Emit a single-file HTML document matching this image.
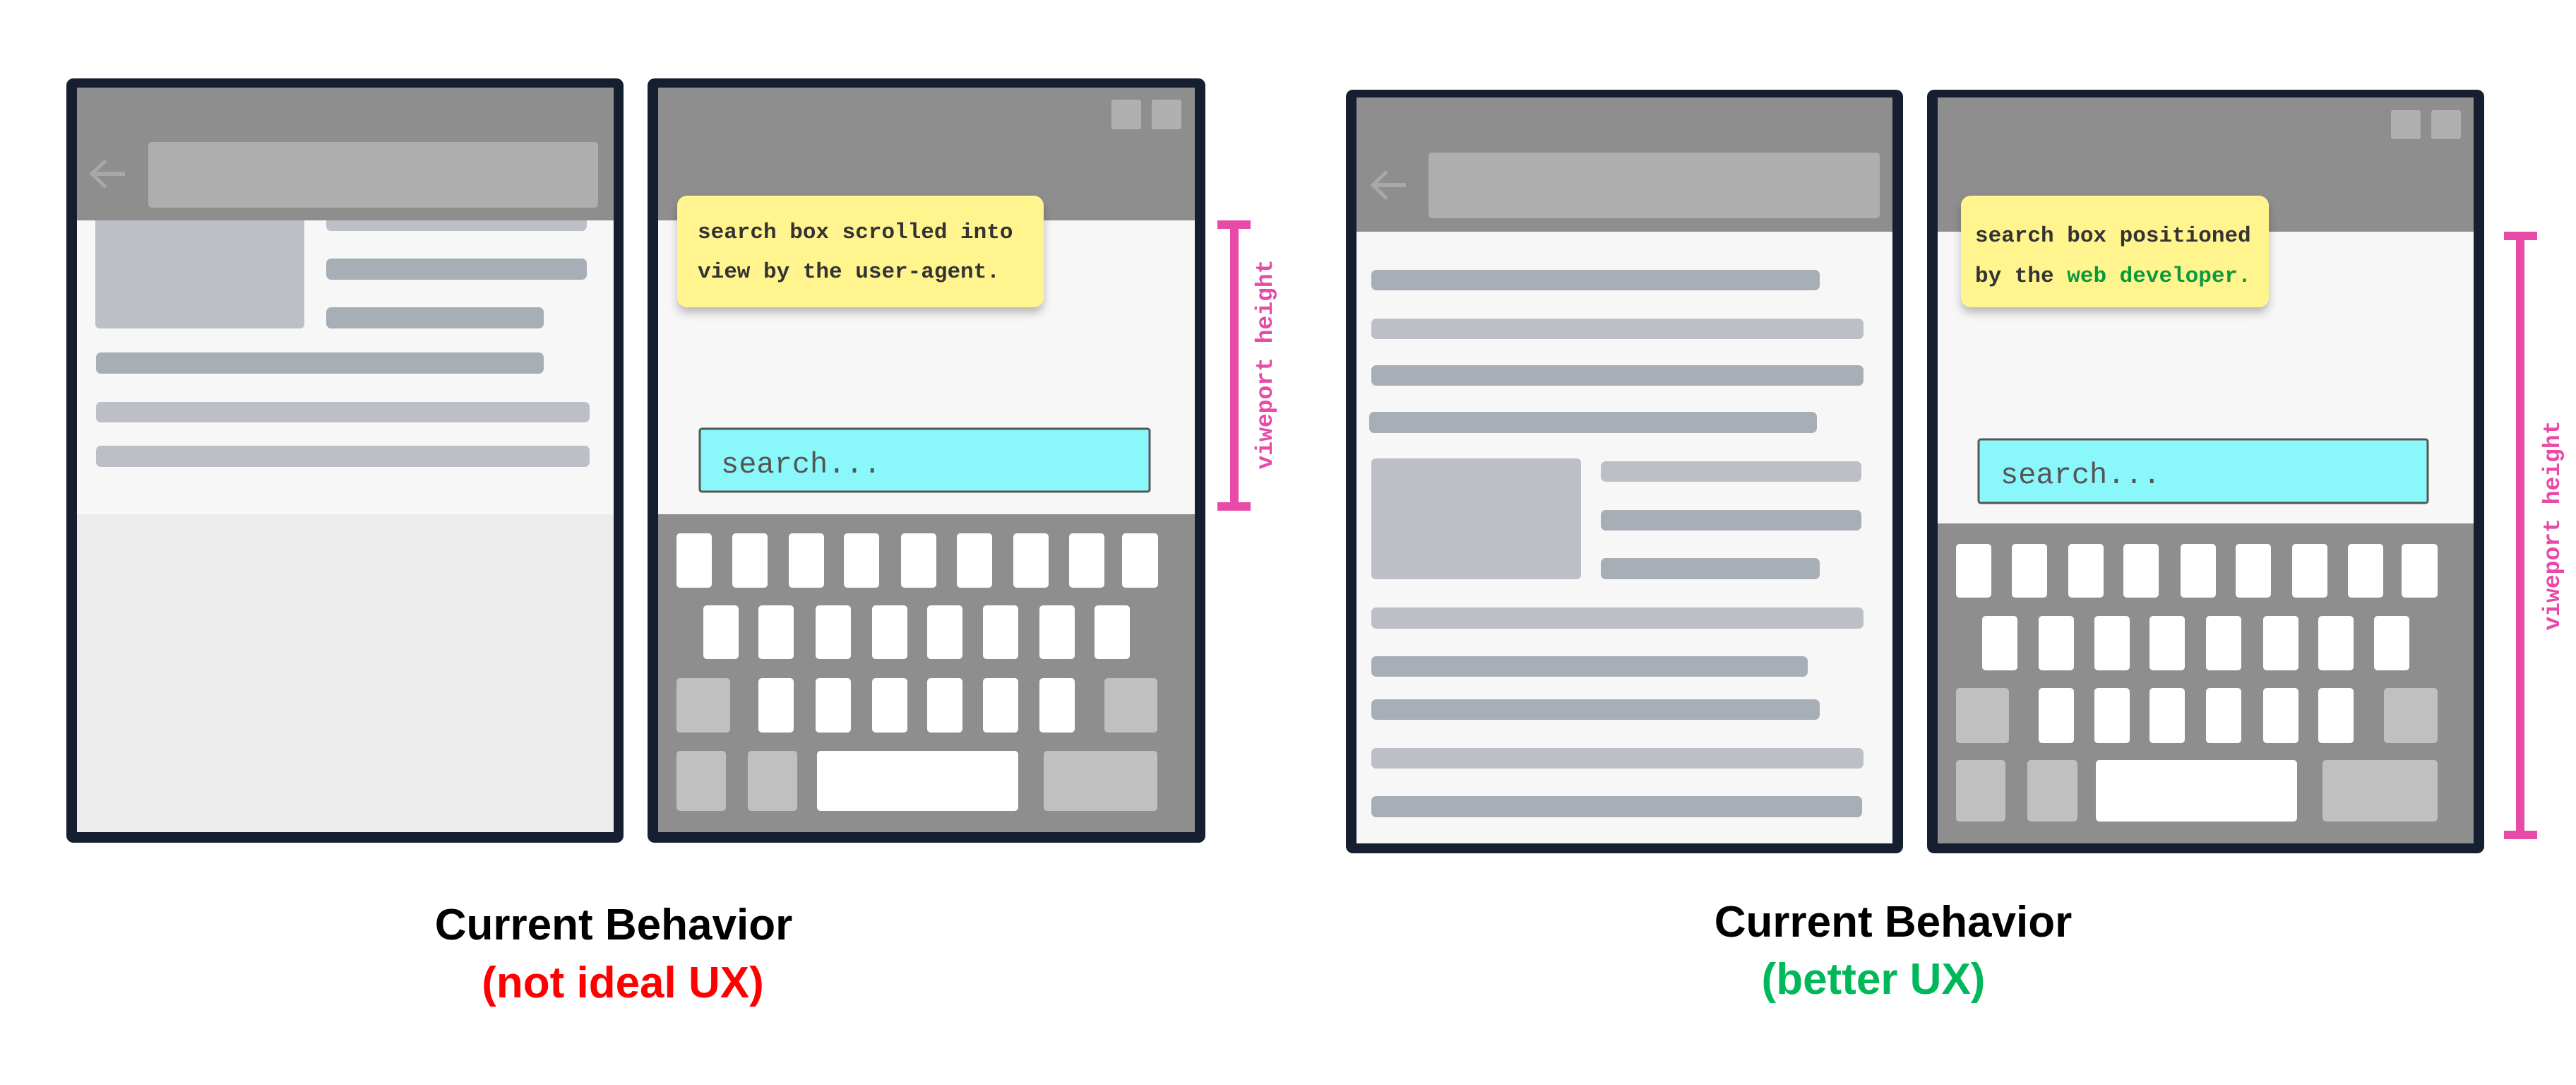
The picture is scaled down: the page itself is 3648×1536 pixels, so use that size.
<!DOCTYPE html>
<html><head><meta charset="utf-8"><style>html,body{margin:0;padding:0;background:#fff}svg{display:block}</style></head><body>
<svg width="3648" height="1536" viewBox="0 0 3648 1536" xmlns="http://www.w3.org/2000/svg">
<defs>
<filter id="sh" x="-10%" y="-10%" width="130%" height="140%"><feDropShadow dx="0" dy="8" stdDeviation="6" flood-color="#000" flood-opacity="0.25"/></filter>
</defs>
<rect width="3648" height="1536" fill="#fff"/>

<!-- LEFT DEVICE 1 -->
<rect x="94" y="111" width="789" height="1082" rx="10" fill="#151f2f"/>
<rect x="109" y="124" width="760" height="1054" fill="#ececec"/>
<rect x="109" y="312" width="760" height="416" fill="#f7f7f7"/>
<rect x="135" y="290" width="296" height="175" rx="6" fill="#bcbfc6"/>
<rect x="462" y="297" width="369" height="30" rx="7" fill="#bcbfc6"/>
<rect x="462" y="366" width="369" height="30" rx="7" fill="#a7aeb5"/>
<rect x="462" y="435" width="308" height="30" rx="7" fill="#a7aeb5"/>
<rect x="136" y="499" width="634" height="30" rx="7" fill="#a7aeb5"/>
<rect x="136" y="569" width="699" height="29" rx="7" fill="#bcbfc6"/>
<rect x="136" y="631" width="699" height="30" rx="7" fill="#bcbfc6"/>
<rect x="109" y="124" width="760" height="188" fill="#8e8e8e"/>
<rect x="210" y="201" width="637" height="93" rx="5" fill="#aeaeae"/>
<polyline points="150,227 130,246 150,265" fill="none" stroke="#a8a8a8" stroke-width="5"/>
<line x1="131" y1="246" x2="177" y2="246" stroke="#a8a8a8" stroke-width="6"/>

<!-- LEFT DEVICE 2 -->
<rect x="917" y="111" width="790" height="1082" rx="10" fill="#151f2f"/>
<rect x="932" y="124" width="760" height="1054" fill="#8e8e8e"/>
<rect x="932" y="312" width="760" height="416" fill="#f7f7f7"/>
<rect x="1574" y="141" width="42" height="42" rx="3" fill="#b0b0b0"/>
<rect x="1631" y="141" width="42" height="42" rx="3" fill="#b0b0b0"/>
<g filter="url(#sh)"><rect x="959" y="277" width="519" height="158" rx="14" fill="#fff48e"/></g>
<text x="988" y="337" font-family="'Liberation Mono', monospace" font-weight="bold" font-size="31" fill="#333">search box scrolled into</text>
<text x="988" y="393" font-family="'Liberation Mono', monospace" font-weight="bold" font-size="31" fill="#333">view by the user-agent.</text>
<rect x="991" y="607" width="637" height="89" rx="3" fill="#8af8fa" stroke="#555" stroke-width="3"/>
<text x="1021" y="669" font-family="'Liberation Mono', monospace" font-size="42" fill="#555">search...</text>
<g fill="#fff">
<rect x="958" y="755" width="50" height="77" rx="5"/><rect x="1037" y="755" width="50" height="77" rx="5"/><rect x="1117" y="755" width="50" height="77" rx="5"/><rect x="1195" y="755" width="50" height="77" rx="5"/><rect x="1276" y="755" width="50" height="77" rx="5"/><rect x="1355" y="755" width="50" height="77" rx="5"/><rect x="1435" y="755" width="50" height="77" rx="5"/><rect x="1514" y="755" width="50" height="77" rx="5"/><rect x="1589" y="755" width="51" height="77" rx="5"/>
<rect x="996" y="857" width="50" height="76" rx="5"/><rect x="1074" y="857" width="50" height="76" rx="5"/><rect x="1155" y="857" width="50" height="76" rx="5"/><rect x="1235" y="857" width="50" height="76" rx="5"/><rect x="1313" y="857" width="50" height="76" rx="5"/><rect x="1392" y="857" width="50" height="76" rx="5"/><rect x="1472" y="857" width="50" height="76" rx="5"/><rect x="1550" y="857" width="50" height="76" rx="5"/>
<rect x="1074" y="960" width="50" height="77" rx="5"/><rect x="1155" y="960" width="50" height="77" rx="5"/><rect x="1235" y="960" width="50" height="77" rx="5"/><rect x="1313" y="960" width="50" height="77" rx="5"/><rect x="1392" y="960" width="50" height="77" rx="5"/><rect x="1472" y="960" width="50" height="77" rx="5"/>
<rect x="1157" y="1063" width="285" height="85" rx="5"/>
</g>
<g fill="#bfc0bf">
<rect x="958" y="960" width="76" height="77" rx="5"/><rect x="1564" y="960" width="75" height="77" rx="5"/>
<rect x="958" y="1063" width="70" height="85" rx="5"/><rect x="1059" y="1063" width="70" height="85" rx="5"/><rect x="1478" y="1063" width="161" height="85" rx="5"/>
</g>

<!-- left bracket -->
<g fill="#e84aa8">
<rect x="1724" y="312" width="47" height="12"/><rect x="1742" y="312" width="12" height="411"/><rect x="1724" y="711" width="47" height="12"/>
</g>
<text transform="translate(1801,516) rotate(-90)" text-anchor="middle" font-family="'Liberation Mono', monospace" font-weight="bold" font-size="33" fill="#e84aa8">viweport height</text>

<!-- RIGHT DEVICE 1 -->
<rect x="1906" y="127" width="789" height="1081" rx="10" fill="#151f2f"/>
<rect x="1921" y="138" width="759" height="1056" fill="#f7f7f7"/>
<rect x="1921" y="138" width="759" height="190" fill="#8e8e8e"/>
<rect x="2023" y="216" width="639" height="93" rx="5" fill="#aeaeae"/>
<polyline points="1964,243 1944,262 1964,281" fill="none" stroke="#a8a8a8" stroke-width="5"/>
<line x1="1945" y1="262" x2="1991" y2="262" stroke="#a8a8a8" stroke-width="6"/>
<rect x="1942" y="382" width="635" height="29" rx="7" fill="#a7aeb5"/>
<rect x="1942" y="451" width="697" height="29" rx="7" fill="#bcbfc6"/>
<rect x="1942" y="517" width="697" height="29" rx="7" fill="#a7aeb5"/>
<rect x="1939" y="583" width="634" height="30" rx="7" fill="#a7aeb5"/>
<rect x="1942" y="649" width="297" height="171" rx="6" fill="#bcbfc6"/>
<rect x="2267" y="653" width="369" height="29" rx="7" fill="#bcbfc6"/>
<rect x="2267" y="722" width="369" height="29" rx="7" fill="#a7aeb5"/>
<rect x="2267" y="790" width="310" height="30" rx="7" fill="#a7aeb5"/>
<rect x="1942" y="860" width="697" height="30" rx="7" fill="#bcbfc6"/>
<rect x="1942" y="929" width="618" height="29" rx="7" fill="#a7aeb5"/>
<rect x="1942" y="990" width="635" height="29" rx="7" fill="#a7aeb5"/>
<rect x="1942" y="1059" width="697" height="29" rx="7" fill="#bcbfc6"/>
<rect x="1942" y="1127" width="695" height="30" rx="7" fill="#a7aeb5"/>

<!-- RIGHT DEVICE 2 -->
<rect x="2729" y="127" width="789" height="1081" rx="10" fill="#151f2f"/>
<rect x="2744" y="138" width="759" height="1056" fill="#8e8e8e"/>
<rect x="2744" y="328" width="759" height="413" fill="#f7f7f7"/>
<rect x="3386" y="156" width="42" height="41" rx="3" fill="#b0b0b0"/>
<rect x="3443" y="156" width="42" height="41" rx="3" fill="#b0b0b0"/>
<g filter="url(#sh)"><rect x="2777" y="277" width="436" height="158" rx="14" fill="#fff48e"/></g>
<text x="2797" y="342" font-family="'Liberation Mono', monospace" font-weight="bold" font-size="31" fill="#333">search box positioned</text>
<text x="2797" y="399" font-family="'Liberation Mono', monospace" font-weight="bold" font-size="31" fill="#333">by the <tspan fill="#0a9a3e">web developer.</tspan></text>
<rect x="2802" y="622" width="636" height="90" rx="3" fill="#8af8fa" stroke="#555" stroke-width="3"/>
<text x="2833" y="684" font-family="'Liberation Mono', monospace" font-size="42" fill="#555">search...</text>
<g fill="#fff">
<rect x="2770" y="770" width="50" height="76" rx="5"/><rect x="2849" y="770" width="50" height="76" rx="5"/><rect x="2929" y="770" width="50" height="76" rx="5"/><rect x="3007" y="770" width="50" height="76" rx="5"/><rect x="3088" y="770" width="50" height="76" rx="5"/><rect x="3166" y="770" width="50" height="76" rx="5"/><rect x="3246" y="770" width="50" height="76" rx="5"/><rect x="3325" y="770" width="50" height="76" rx="5"/><rect x="3401" y="770" width="51" height="76" rx="5"/>
<rect x="2807" y="872" width="50" height="77" rx="5"/><rect x="2887" y="872" width="50" height="77" rx="5"/><rect x="2966" y="872" width="50" height="77" rx="5"/><rect x="3044" y="872" width="50" height="77" rx="5"/><rect x="3124" y="872" width="50" height="77" rx="5"/><rect x="3205" y="872" width="50" height="77" rx="5"/><rect x="3283" y="872" width="50" height="77" rx="5"/><rect x="3362" y="872" width="50" height="77" rx="5"/>
<rect x="2887" y="974" width="50" height="78" rx="5"/><rect x="2966" y="974" width="50" height="78" rx="5"/><rect x="3044" y="974" width="50" height="78" rx="5"/><rect x="3124" y="974" width="50" height="78" rx="5"/><rect x="3205" y="974" width="50" height="78" rx="5"/><rect x="3283" y="974" width="50" height="78" rx="5"/>
<rect x="2968" y="1076" width="285" height="87" rx="5"/>
</g>
<g fill="#bfc0bf">
<rect x="2770" y="974" width="75" height="78" rx="5"/><rect x="3376" y="974" width="76" height="78" rx="5"/>
<rect x="2770" y="1076" width="70" height="87" rx="5"/><rect x="2871" y="1076" width="71" height="87" rx="5"/><rect x="3289" y="1076" width="163" height="87" rx="5"/>
</g>

<!-- right bracket -->
<g fill="#e84aa8">
<rect x="3546" y="328" width="47" height="12"/><rect x="3563" y="328" width="12" height="860"/><rect x="3546" y="1176" width="47" height="12"/>
</g>
<text transform="translate(3624,744) rotate(-90)" text-anchor="middle" font-family="'Liberation Mono', monospace" font-weight="bold" font-size="33" fill="#e84aa8">viweport height</text>

<!-- captions -->
<text x="869" y="1330" text-anchor="middle" font-family="'Liberation Sans', sans-serif" font-weight="bold" font-size="62" fill="#000">Current Behavior</text>
<text x="882" y="1412" text-anchor="middle" font-family="'Liberation Sans', sans-serif" font-weight="bold" font-size="62" fill="#ff0000">(not ideal UX)</text>
<text x="2681" y="1326" text-anchor="middle" font-family="'Liberation Sans', sans-serif" font-weight="bold" font-size="62" fill="#000">Current Behavior</text>
<text x="2653" y="1407" text-anchor="middle" font-family="'Liberation Sans', sans-serif" font-weight="bold" font-size="62" fill="#00b85a">(better UX)</text>
</svg>
</body></html>
